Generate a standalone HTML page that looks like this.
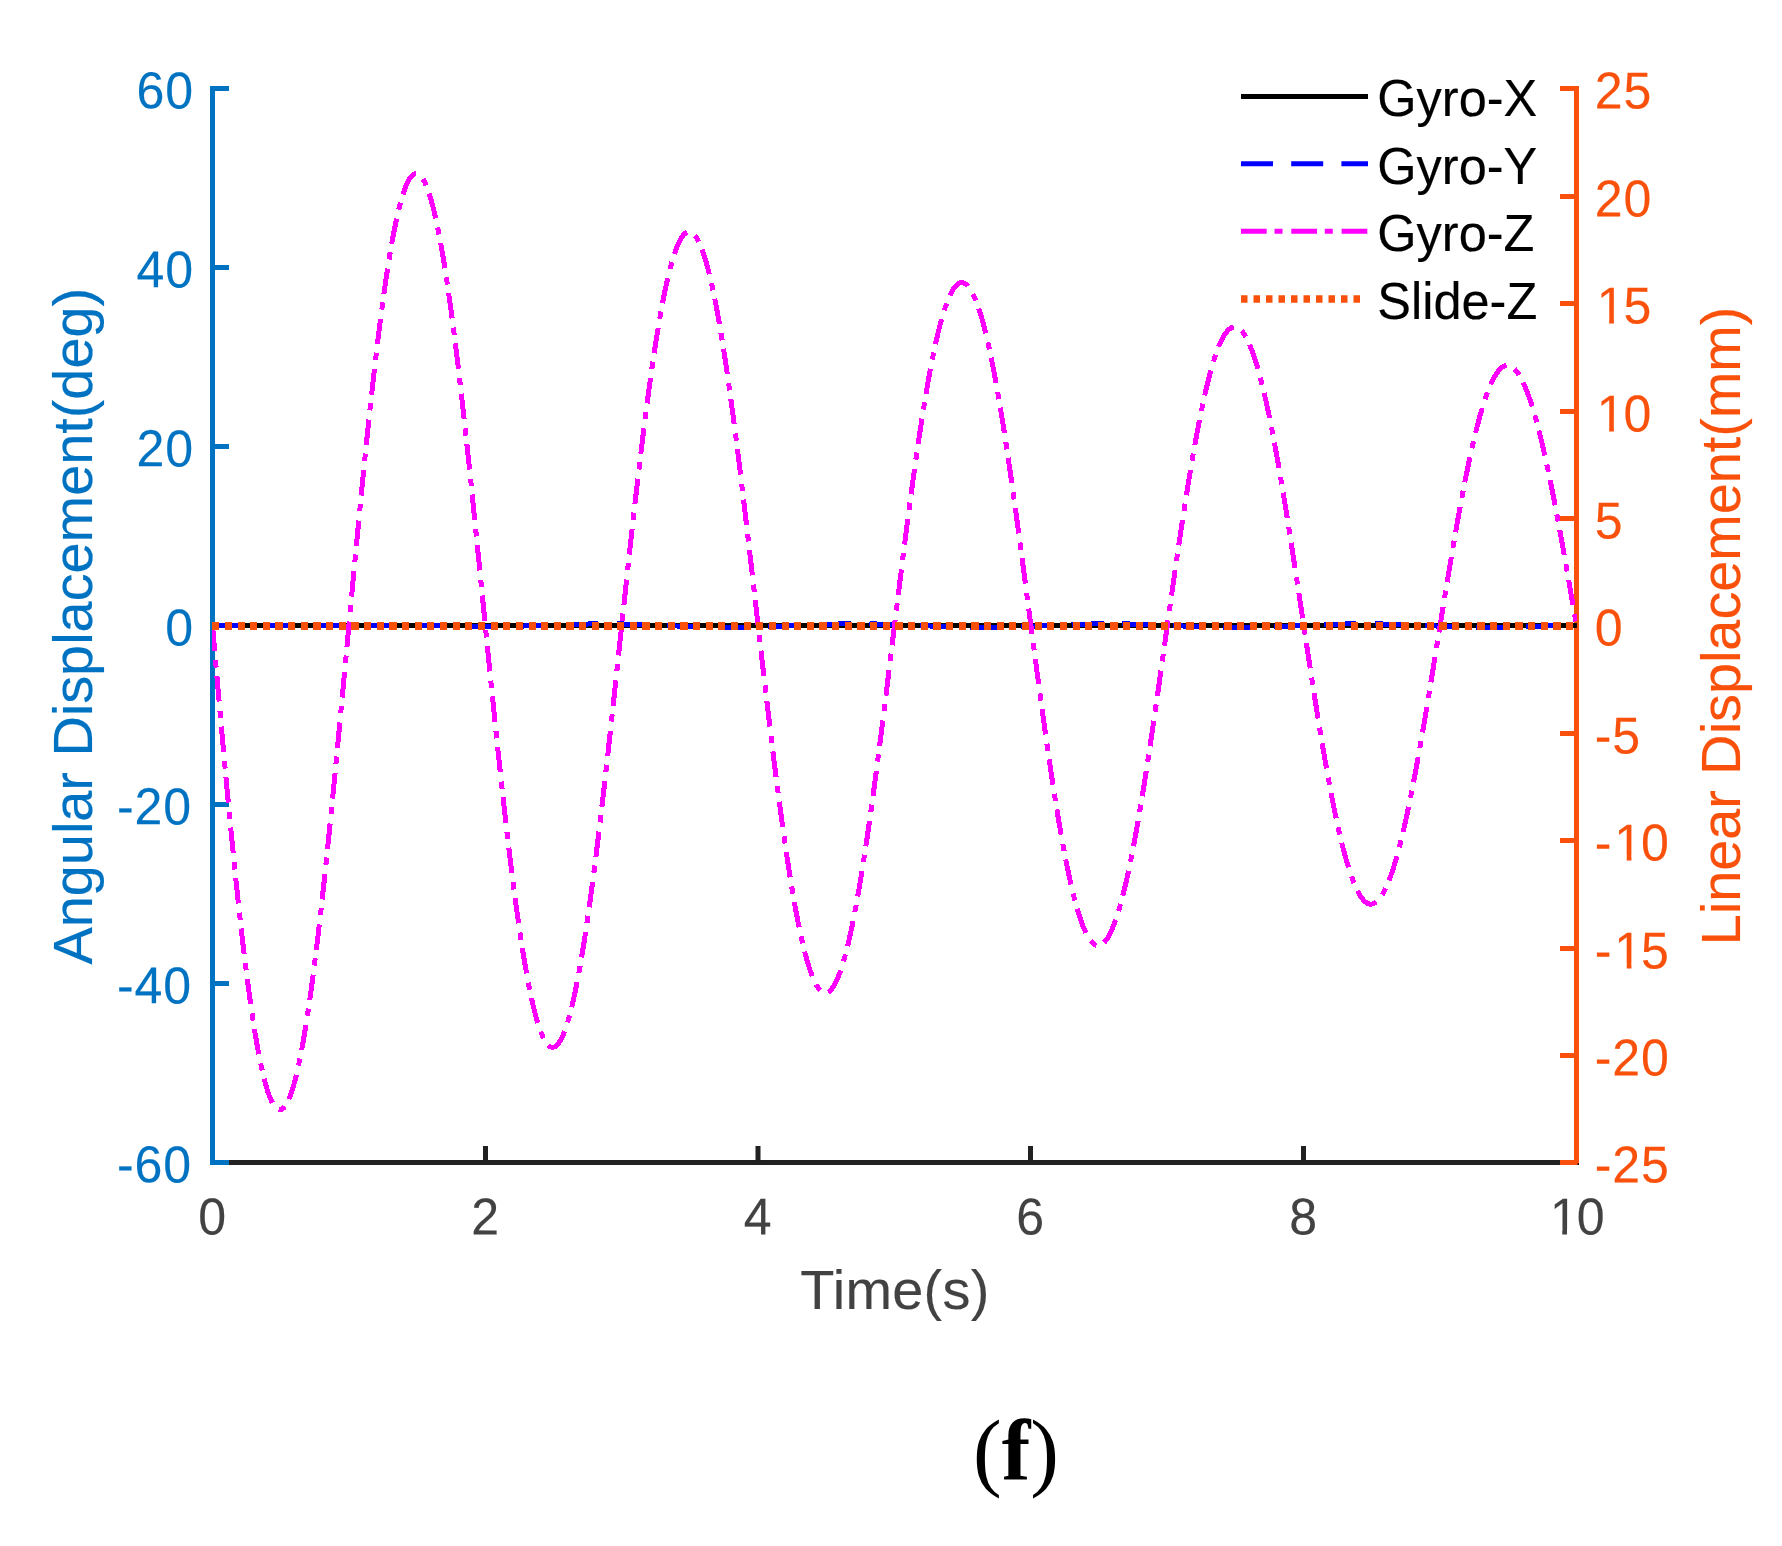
<!DOCTYPE html>
<html lang="en"><head><meta charset="utf-8"><title>Figure (f)</title>
<style>html,body{margin:0;padding:0;background:#fff}svg{display:block}text{font-family:"Liberation Sans",sans-serif}.ser{font-family:"Liberation Serif",serif}</style></head><body>
<svg width="1782" height="1546" viewBox="0 0 1782 1546">
<rect width="1782" height="1546" fill="#fff"/>
<g stroke="#212121" stroke-width="5" fill="none">
<line x1="210.0" y1="1162.5" x2="1579.0" y2="1162.5"/>
<line x1="212.50" y1="1165.0" x2="212.50" y2="1146.0"/>
<line x1="485.50" y1="1165.0" x2="485.50" y2="1146.0"/>
<line x1="758.00" y1="1165.0" x2="758.00" y2="1146.0"/>
<line x1="1030.50" y1="1165.0" x2="1030.50" y2="1146.0"/>
<line x1="1303.50" y1="1165.0" x2="1303.50" y2="1146.0"/>
<line x1="1576.50" y1="1165.0" x2="1576.50" y2="1146.0"/>
</g>
<g stroke="#0072C2" stroke-width="5" fill="none">
<line x1="212.5" y1="86.0" x2="212.5" y2="1165.0"/>
<line x1="210.0" y1="1162.50" x2="229.0" y2="1162.50"/>
<line x1="210.0" y1="983.50" x2="229.0" y2="983.50"/>
<line x1="210.0" y1="804.50" x2="229.0" y2="804.50"/>
<line x1="210.0" y1="625.50" x2="229.0" y2="625.50"/>
<line x1="210.0" y1="446.50" x2="229.0" y2="446.50"/>
<line x1="210.0" y1="267.50" x2="229.0" y2="267.50"/>
<line x1="210.0" y1="88.50" x2="229.0" y2="88.50"/>
</g>
<g stroke="#F9510B" stroke-width="5" fill="none">
<line x1="1576.5" y1="86.0" x2="1576.5" y2="1165.0"/>
<line x1="1579.0" y1="1162.50" x2="1560.0" y2="1162.50"/>
<line x1="1579.0" y1="1055.50" x2="1560.0" y2="1055.50"/>
<line x1="1579.0" y1="948.50" x2="1560.0" y2="948.50"/>
<line x1="1579.0" y1="840.50" x2="1560.0" y2="840.50"/>
<line x1="1579.0" y1="733.50" x2="1560.0" y2="733.50"/>
<line x1="1579.0" y1="625.50" x2="1560.0" y2="625.50"/>
<line x1="1579.0" y1="518.50" x2="1560.0" y2="518.50"/>
<line x1="1579.0" y1="411.50" x2="1560.0" y2="411.50"/>
<line x1="1579.0" y1="303.50" x2="1560.0" y2="303.50"/>
<line x1="1579.0" y1="196.50" x2="1560.0" y2="196.50"/>
<line x1="1579.0" y1="88.50" x2="1560.0" y2="88.50"/>
</g>
<clipPath id="box"><rect x="212" y="88" width="1365" height="1075"/></clipPath>
<g clip-path="url(#box)">
<line x1="212.5" y1="625.50" x2="1576.9" y2="625.50" stroke="#000" stroke-width="5"/>
<polyline points="212.50,625.60 215.23,625.60 217.96,625.60 220.68,625.60 223.41,625.60 226.14,625.60 228.87,625.60 231.60,625.60 234.32,625.60 237.05,625.60 239.78,625.60 242.51,625.60 245.24,625.60 247.96,625.60 250.69,625.60 253.42,625.60 256.15,625.60 258.88,625.60 261.60,625.60 264.33,625.60 267.06,625.60 269.79,625.60 272.52,625.60 275.24,625.60 277.97,625.60 280.70,625.60 283.43,625.60 286.16,625.60 288.88,625.60 291.61,625.60 294.34,625.60 297.07,625.60 299.80,625.60 302.52,625.60 305.25,625.60 307.98,625.60 310.71,625.60 313.44,625.60 316.16,625.60 318.89,625.60 321.62,625.60 324.35,625.60 327.08,625.60 329.80,625.60 332.53,625.60 335.26,625.60 337.99,625.60 340.72,625.60 343.44,625.60 346.17,625.60 348.90,625.60 351.63,625.60 354.36,625.60 357.08,625.60 359.81,625.60 362.54,625.60 365.27,625.60 368.00,625.60 370.72,625.60 373.45,625.60 376.18,625.60 378.91,625.60 381.64,625.60 384.36,625.60 387.09,625.60 389.82,625.60 392.55,625.60 395.28,625.60 398.00,625.60 400.73,625.60 403.46,625.60 406.19,625.60 408.92,625.60 411.64,625.60 414.37,625.60 417.10,625.60 419.83,625.60 422.56,625.60 425.28,625.60 428.01,625.60 430.74,625.60 433.47,625.61 436.20,625.63 438.92,625.65 441.65,625.68 444.38,625.70 447.11,625.73 449.84,625.76 452.56,625.80 455.29,625.83 458.02,625.87 460.75,625.90 463.48,625.94 466.20,625.98 468.93,626.01 471.66,626.05 474.39,626.08 477.12,626.11 479.84,626.14 482.57,626.17 485.30,626.19 488.03,626.21 490.76,626.22 493.48,626.24 496.21,626.24 498.94,626.24 501.67,626.24 504.40,626.23 507.12,626.22 509.85,626.20 512.58,626.18 515.31,626.15 518.04,626.11 520.76,626.07 523.49,626.02 526.22,625.97 528.95,625.91 531.68,625.84 534.40,625.78 537.13,625.70 539.86,625.62 542.59,625.54 545.32,625.45 548.04,625.36 550.77,625.27 553.50,625.18 556.23,625.08 558.96,624.98 561.68,624.88 564.41,624.78 567.14,624.68 569.87,624.59 572.60,624.49 575.32,624.39 578.05,624.30 580.78,624.22 583.51,624.13 586.24,624.05 588.96,623.98 591.69,623.91 594.42,623.85 597.15,623.83 599.88,623.81 602.60,623.80 605.33,623.80 608.06,623.81 610.79,623.83 613.52,623.85 616.24,623.88 618.97,623.92 621.70,623.97 624.43,624.03 627.16,624.09 629.88,624.16 632.61,624.24 635.34,624.32 638.07,624.41 640.80,624.50 643.52,624.60 646.25,624.70 648.98,624.81 651.71,624.92 654.44,625.04 657.16,625.15 659.89,625.27 662.62,625.39 665.35,625.51 668.08,625.64 670.80,625.76 673.53,625.88 676.26,626.00 678.99,626.11 681.72,626.23 684.44,626.34 687.17,626.45 689.90,626.56 692.63,626.66 695.36,626.75 698.08,626.85 700.81,626.93 703.54,627.01 706.27,627.08 709.00,627.15 711.72,627.21 714.45,627.26 717.18,627.30 719.91,627.34 722.64,627.36 725.36,627.38 728.09,627.40 730.82,627.40 733.55,627.40 736.28,627.38 739.00,627.36 741.73,627.33 744.46,627.29 747.19,627.25 749.92,627.20 752.64,627.14 755.37,627.07 758.10,627.00 760.83,626.92 763.56,626.83 766.28,626.74 769.01,626.64 771.74,626.54 774.47,626.44 777.20,626.33 779.92,626.21 782.65,626.10 785.38,625.98 788.11,625.86 790.84,625.74 793.56,625.62 796.29,625.50 799.02,625.37 801.75,625.25 804.48,625.13 807.20,625.02 809.93,624.90 812.66,624.79 815.39,624.69 818.12,624.58 820.84,624.49 823.57,624.39 826.30,624.31 829.03,624.22 831.76,624.15 834.48,624.08 837.21,624.02 839.94,623.96 842.67,623.92 845.40,623.88 848.12,623.85 850.85,623.82 853.58,623.81 856.31,623.80 859.04,623.80 861.76,623.81 864.49,623.83 867.22,623.85 869.95,623.89 872.68,623.93 875.40,623.98 878.13,624.04 880.86,624.10 883.59,624.17 886.32,624.25 889.04,624.33 891.77,624.42 894.50,624.51 897.23,624.61 899.96,624.72 902.68,624.83 905.41,624.94 908.14,625.05 910.87,625.17 913.60,625.29 916.32,625.41 919.05,625.53 921.78,625.65 924.51,625.77 927.24,625.90 929.96,626.01 932.69,626.13 935.42,626.25 938.15,626.36 940.88,626.47 943.60,626.57 946.33,626.67 949.06,626.77 951.79,626.86 954.52,626.94 957.24,627.02 959.97,627.09 962.70,627.16 965.43,627.21 968.16,627.26 970.88,627.31 973.61,627.34 976.34,627.37 979.07,627.39 981.80,627.40 984.52,627.40 987.25,627.39 989.98,627.38 992.71,627.36 995.44,627.33 998.16,627.29 1000.89,627.24 1003.62,627.19 1006.35,627.13 1009.08,627.06 1011.80,626.99 1014.53,626.91 1017.26,626.82 1019.99,626.73 1022.72,626.63 1025.44,626.53 1028.17,626.42 1030.90,626.31 1033.63,626.20 1036.36,626.08 1039.08,625.96 1041.81,625.84 1044.54,625.72 1047.27,625.60 1050.00,625.48 1052.72,625.36 1055.45,625.24 1058.18,625.12 1060.91,625.00 1063.64,624.89 1066.36,624.78 1069.09,624.67 1071.82,624.57 1074.55,624.47 1077.28,624.38 1080.00,624.29 1082.73,624.21 1085.46,624.14 1088.19,624.07 1090.92,624.01 1093.64,623.96 1096.37,623.91 1099.10,623.87 1101.83,623.84 1104.56,623.82 1107.28,623.81 1110.01,623.80 1112.74,623.80 1115.47,623.81 1118.20,623.83 1120.92,623.86 1123.65,623.89 1126.38,623.94 1129.11,623.99 1131.84,624.04 1134.56,624.11 1137.29,624.18 1140.02,624.26 1142.75,624.34 1145.48,624.43 1148.20,624.53 1150.93,624.63 1153.66,624.73 1156.39,624.84 1159.12,624.96 1161.84,625.07 1164.57,625.19 1167.30,625.31 1170.03,625.43 1172.76,625.55 1175.48,625.67 1178.21,625.79 1180.94,625.91 1183.67,626.03 1186.40,626.15 1189.12,626.26 1191.85,626.38 1194.58,626.48 1197.31,626.59 1200.04,626.69 1202.76,626.78 1205.49,626.87 1208.22,626.95 1210.95,627.03 1213.68,627.10 1216.40,627.17 1219.13,627.22 1221.86,627.27 1224.59,627.31 1227.32,627.35 1230.04,627.37 1232.77,627.39 1235.50,627.40 1238.23,627.40 1240.96,627.39 1243.68,627.38 1246.41,627.35 1249.14,627.32 1251.87,627.28 1254.60,627.24 1257.32,627.18 1260.05,627.12 1262.78,627.05 1265.51,626.97 1268.24,626.89 1270.96,626.80 1273.69,626.71 1276.42,626.61 1279.15,626.51 1281.88,626.40 1284.60,626.29 1287.33,626.18 1290.06,626.06 1292.79,625.94 1295.52,625.82 1298.24,625.70 1300.97,625.58 1303.70,625.46 1306.43,625.34 1309.16,625.22 1311.88,625.10 1314.61,624.98 1317.34,624.87 1320.07,624.76 1322.80,624.66 1325.52,624.55 1328.25,624.46 1330.98,624.37 1333.71,624.28 1336.44,624.20 1339.16,624.13 1341.89,624.06 1344.62,624.00 1347.35,623.95 1350.08,623.90 1352.80,623.87 1355.53,623.84 1358.26,623.82 1360.99,623.80 1363.72,623.80 1366.44,623.80 1369.17,623.82 1371.90,623.84 1374.63,623.86 1377.36,623.90 1380.08,623.94 1382.81,624.00 1385.54,624.05 1388.27,624.12 1391.00,624.19 1393.72,624.27 1396.45,624.36 1399.18,624.45 1401.91,624.54 1404.64,624.65 1407.36,624.75 1410.09,624.86 1412.82,624.97 1415.55,625.09 1418.28,625.21 1421.00,625.33 1423.73,625.45 1426.46,625.57 1429.19,625.69 1431.92,625.81 1434.64,625.93 1437.37,626.05 1440.10,626.17 1442.83,626.28 1445.56,626.39 1448.28,626.50 1451.01,626.60 1453.74,626.70 1456.47,626.80 1459.20,626.88 1461.92,626.97 1464.65,627.04 1467.38,627.11 1470.11,627.17 1472.84,627.23 1475.56,627.28 1478.29,627.32 1481.02,627.35 1483.75,627.37 1486.48,627.39 1489.20,627.40 1491.93,627.40 1494.66,627.39 1497.39,627.37 1500.12,627.35 1502.84,627.32 1505.57,627.28 1508.30,627.23 1511.03,627.17 1513.76,627.11 1516.48,627.04 1519.21,626.96 1521.94,626.88 1524.67,626.79 1527.40,626.70 1530.12,626.60 1532.85,626.49 1535.58,626.39 1538.31,626.28 1541.04,626.16 1543.76,626.04 1546.49,625.93 1549.22,625.81 1551.95,625.68 1554.68,625.56 1557.40,625.44 1560.13,625.32 1562.86,625.20 1565.59,625.08 1568.32,624.97 1571.04,624.85 1573.77,624.75 1576.50,624.64" fill="none" stroke="#0000FF" stroke-width="5" shape-rendering="crispEdges" stroke-dasharray="32 18.55"/>
<polyline points="212.50,625.50 213.18,633.37 213.86,641.23 214.55,649.09 215.23,656.93 215.91,664.76 216.59,672.57 217.27,680.37 217.96,688.14 218.64,695.90 219.32,703.63 220.00,711.34 220.68,719.03 221.37,726.68 222.05,734.31 222.73,741.90 223.41,749.46 224.09,756.98 224.78,764.46 225.46,771.91 226.14,779.31 226.82,786.67 227.50,793.99 228.19,801.26 228.87,808.48 229.55,815.65 230.23,822.77 230.91,829.84 231.60,836.85 232.28,843.80 232.96,850.69 233.64,857.53 234.32,864.30 235.01,871.01 235.69,877.65 236.37,884.23 237.05,890.74 237.73,897.17 238.42,903.54 239.10,909.84 239.78,916.05 240.46,922.20 241.14,928.26 241.83,934.25 242.51,940.16 243.19,945.98 243.87,951.72 244.55,957.38 245.24,962.95 245.92,968.44 246.60,973.83 247.28,979.14 247.96,984.35 248.65,989.48 249.33,994.51 250.01,999.44 250.69,1004.28 251.37,1009.02 252.06,1013.67 252.74,1018.21 253.42,1022.66 254.10,1027.00 254.78,1031.25 255.47,1035.39 256.15,1039.42 256.83,1043.35 257.51,1047.18 258.19,1050.90 258.88,1054.51 259.56,1058.01 260.24,1061.40 260.92,1064.68 261.60,1067.86 262.29,1070.92 262.97,1073.87 263.65,1076.70 264.33,1079.43 265.01,1082.04 265.70,1084.53 266.38,1086.91 267.06,1089.17 267.74,1091.32 268.42,1093.35 269.11,1095.27 269.79,1097.07 270.47,1098.75 271.15,1100.31 271.83,1101.75 272.52,1103.08 273.20,1104.29 273.88,1105.37 274.56,1106.34 275.24,1107.19 275.93,1107.92 276.61,1108.53 277.29,1109.02 277.97,1109.39 278.65,1109.64 279.34,1109.77 280.02,1109.79 280.70,1109.68 281.38,1109.45 282.06,1109.11 282.75,1108.64 283.43,1108.06 284.11,1107.35 284.79,1106.53 285.47,1105.59 286.16,1104.54 286.84,1103.36 287.52,1102.07 288.20,1100.66 288.88,1099.14 289.57,1097.49 290.25,1095.74 290.93,1093.87 291.61,1091.88 292.29,1089.78 292.98,1087.57 293.66,1085.25 294.34,1082.81 295.02,1080.26 295.70,1077.61 296.39,1074.84 297.07,1071.96 297.75,1068.98 298.43,1065.88 299.11,1062.69 299.80,1059.38 300.48,1055.97 301.16,1052.46 301.84,1048.84 302.52,1045.12 303.21,1041.31 303.89,1037.39 304.57,1033.37 305.25,1029.25 305.93,1025.04 306.62,1020.73 307.30,1016.33 307.98,1011.83 308.66,1007.24 309.34,1002.57 310.03,997.80 310.71,992.94 311.39,987.99 312.07,982.96 312.75,977.85 313.44,972.65 314.12,967.36 314.80,962.00 315.48,956.56 316.16,951.04 316.85,945.45 317.53,939.78 318.21,934.03 318.89,928.21 319.57,922.33 320.26,916.37 320.94,910.35 321.62,904.25 322.30,898.10 322.98,891.88 323.67,885.60 324.35,879.26 325.03,872.86 325.71,866.41 326.39,859.90 327.08,853.34 327.76,846.72 328.44,840.06 329.12,833.35 329.80,826.59 330.49,819.78 331.17,812.94 331.85,806.05 332.53,799.12 333.21,792.15 333.90,785.15 334.58,778.11 335.26,771.04 335.94,763.94 336.62,756.81 337.31,749.65 337.99,742.47 338.67,735.26 339.35,728.03 340.03,720.78 340.72,713.51 341.40,706.22 342.08,698.92 342.76,691.61 343.44,684.29 344.13,676.95 344.81,669.61 345.49,662.26 346.17,654.91 346.85,647.56 347.54,640.20 348.22,632.85 348.90,625.50 349.58,618.16 350.26,610.82 350.95,603.49 351.63,596.17 352.31,588.87 352.99,581.57 353.67,574.30 354.36,567.04 355.04,559.80 355.72,552.58 356.40,545.39 357.08,538.22 357.77,531.07 358.45,523.96 359.13,516.87 359.81,509.82 360.49,502.80 361.18,495.81 361.86,488.87 362.54,481.96 363.22,475.09 363.90,468.26 364.59,461.48 365.27,454.74 365.95,448.04 366.63,441.40 367.31,434.81 368.00,428.26 368.68,421.78 369.36,415.34 370.04,408.96 370.72,402.64 371.41,396.38 372.09,390.18 372.77,384.05 373.45,377.97 374.13,371.96 374.82,366.02 375.50,360.15 376.18,354.34 376.86,348.61 377.54,342.95 378.23,337.36 378.91,331.85 379.59,326.42 380.27,321.06 380.95,315.78 381.64,310.58 382.32,305.46 383.00,300.42 383.68,295.47 384.36,290.61 385.05,285.82 385.73,281.13 386.41,276.53 387.09,272.01 387.77,267.58 388.46,263.25 389.14,259.01 389.82,254.86 390.50,250.80 391.18,246.84 391.87,242.98 392.55,239.21 393.23,235.55 393.91,231.98 394.59,228.51 395.28,225.14 395.96,221.87 396.64,218.70 397.32,215.64 398.00,212.68 398.69,209.82 399.37,207.07 400.05,204.42 400.73,201.88 401.41,199.45 402.10,197.12 402.78,194.90 403.46,192.78 404.14,190.78 404.82,188.88 405.51,187.10 406.19,185.42 406.87,183.85 407.55,182.39 408.23,181.04 408.92,179.81 409.60,178.68 410.28,177.67 410.96,176.76 411.64,175.97 412.33,175.29 413.01,174.72 413.69,174.26 414.37,173.92 415.05,173.68 415.74,173.56 416.42,173.55 417.10,173.65 417.78,173.86 418.46,174.18 419.15,174.62 419.83,175.16 420.51,175.82 421.19,176.58 421.87,177.46 422.56,178.45 423.24,179.54 423.92,180.75 424.60,182.06 425.28,183.49 425.97,185.02 426.65,186.66 427.33,188.40 428.01,190.26 428.69,192.21 429.38,194.28 430.06,196.45 430.74,198.72 431.42,201.10 432.10,203.58 432.79,206.16 433.47,208.85 434.15,211.63 434.83,214.52 435.51,217.50 436.20,220.59 436.88,223.77 437.56,227.05 438.24,230.42 438.92,233.89 439.61,237.46 440.29,241.11 440.97,244.86 441.65,248.70 442.33,252.64 443.02,256.66 443.70,260.77 444.38,264.96 445.06,269.24 445.74,273.61 446.43,278.06 447.11,282.59 447.79,287.21 448.47,291.90 449.15,296.68 449.84,301.53 450.52,306.46 451.20,311.46 451.88,316.54 452.56,321.69 453.25,326.92 453.93,332.21 454.61,337.57 455.29,343.00 455.97,348.49 456.66,354.05 457.34,359.67 458.02,365.36 458.70,371.10 459.38,376.90 460.07,382.76 460.75,388.68 461.43,394.65 462.11,400.67 462.79,406.75 463.48,412.87 464.16,419.05 464.84,425.27 465.52,431.53 466.20,437.84 466.89,444.19 467.57,450.58 468.25,457.01 468.93,463.47 469.61,469.97 470.30,476.51 470.98,483.08 471.66,489.68 472.34,496.30 473.02,502.96 473.71,509.64 474.39,516.34 475.07,523.07 475.75,529.82 476.43,536.58 477.12,543.37 477.80,550.17 478.48,556.98 479.16,563.80 479.84,570.64 480.53,577.48 481.21,584.34 481.89,591.19 482.57,598.05 483.25,604.92 483.94,611.78 484.62,618.64 485.30,625.50 485.98,632.35 486.66,639.20 487.35,646.04 488.03,652.87 488.71,659.69 489.39,666.49 490.07,673.28 490.76,680.06 491.44,686.81 492.12,693.55 492.80,700.26 493.48,706.95 494.17,713.62 494.85,720.26 495.53,726.87 496.21,733.46 496.89,740.01 497.58,746.53 498.26,753.01 498.94,759.46 499.62,765.87 500.30,772.24 500.99,778.57 501.67,784.86 502.35,791.11 503.03,797.31 503.71,803.46 504.40,809.57 505.08,815.62 505.76,821.63 506.44,827.58 507.12,833.48 507.81,839.32 508.49,845.11 509.17,850.83 509.85,856.50 510.53,862.11 511.22,867.65 511.90,873.13 512.58,878.55 513.26,883.90 513.94,889.18 514.63,894.40 515.31,899.54 515.99,904.62 516.67,909.62 517.35,914.54 518.04,919.40 518.72,924.17 519.40,928.87 520.08,933.49 520.76,938.03 521.45,942.50 522.13,946.88 522.81,951.17 523.49,955.39 524.17,959.52 524.86,963.57 525.54,967.52 526.22,971.40 526.90,975.18 527.58,978.88 528.27,982.48 528.95,986.00 529.63,989.42 530.31,992.75 530.99,995.99 531.68,999.13 532.36,1002.18 533.04,1005.14 533.72,1008.00 534.40,1010.76 535.09,1013.43 535.77,1015.99 536.45,1018.46 537.13,1020.84 537.81,1023.11 538.50,1025.28 539.18,1027.35 539.86,1029.33 540.54,1031.20 541.22,1032.97 541.91,1034.63 542.59,1036.20 543.27,1037.66 543.95,1039.02 544.63,1040.28 545.32,1041.44 546.00,1042.49 546.68,1043.43 547.36,1044.28 548.04,1045.02 548.73,1045.65 549.41,1046.18 550.09,1046.61 550.77,1046.93 551.45,1047.15 552.14,1047.27 552.82,1047.28 553.50,1047.18 554.18,1046.99 554.86,1046.68 555.55,1046.28 556.23,1045.77 556.91,1045.16 557.59,1044.44 558.27,1043.62 558.96,1042.70 559.64,1041.68 560.32,1040.56 561.00,1039.33 561.68,1038.00 562.37,1036.57 563.05,1035.04 563.73,1033.41 564.41,1031.68 565.09,1029.86 565.78,1027.93 566.46,1025.91 567.14,1023.78 567.82,1021.56 568.50,1019.25 569.19,1016.84 569.87,1014.33 570.55,1011.73 571.23,1009.04 571.91,1006.26 572.60,1003.38 573.28,1000.41 573.96,997.35 574.64,994.20 575.32,990.96 576.01,987.64 576.69,984.22 577.37,980.72 578.05,977.14 578.73,973.47 579.42,969.72 580.10,965.88 580.78,961.97 581.46,957.97 582.14,953.90 582.83,949.74 583.51,945.51 584.19,941.20 584.87,936.82 585.55,932.37 586.24,927.84 586.92,923.24 587.60,918.57 588.28,913.83 588.96,909.02 589.65,904.15 590.33,899.21 591.01,894.21 591.69,889.14 592.37,884.01 593.06,878.83 593.74,873.58 594.42,868.27 595.10,862.91 595.78,857.50 596.47,852.03 597.15,846.51 597.83,840.94 598.51,835.32 599.19,829.65 599.88,823.93 600.56,818.17 601.24,812.37 601.92,806.52 602.60,800.63 603.29,794.71 603.97,788.74 604.65,782.74 605.33,776.71 606.01,770.64 606.70,764.54 607.38,758.41 608.06,752.26 608.74,746.07 609.42,739.86 610.11,733.63 610.79,727.37 611.47,721.09 612.15,714.79 612.83,708.48 613.52,702.15 614.20,695.80 614.88,689.45 615.56,683.08 616.24,676.70 616.93,670.31 617.61,663.92 618.29,657.52 618.97,651.11 619.65,644.71 620.34,638.30 621.02,631.90 621.70,625.50 622.38,619.10 623.06,612.71 623.75,606.33 624.43,599.96 625.11,593.59 625.79,587.24 626.47,580.91 627.16,574.58 627.84,568.28 628.52,561.99 629.20,555.73 629.88,549.48 630.57,543.26 631.25,537.07 631.93,530.89 632.61,524.75 633.29,518.64 633.98,512.55 634.66,506.50 635.34,500.48 636.02,494.50 636.70,488.56 637.39,482.65 638.07,476.78 638.75,470.95 639.43,465.16 640.11,459.42 640.80,453.72 641.48,448.07 642.16,442.47 642.84,436.91 643.52,431.41 644.21,425.96 644.89,420.56 645.57,415.21 646.25,409.92 646.93,404.69 647.62,399.51 648.30,394.40 648.98,389.34 649.66,384.35 650.34,379.42 651.03,374.56 651.71,369.75 652.39,365.02 653.07,360.35 653.75,355.76 654.44,351.23 655.12,346.77 655.80,342.38 656.48,338.07 657.16,333.83 657.85,329.67 658.53,325.58 659.21,321.57 659.89,317.64 660.57,313.78 661.26,310.01 661.94,306.31 662.62,302.70 663.30,299.17 663.98,295.72 664.67,292.35 665.35,289.07 666.03,285.88 666.71,282.77 667.39,279.75 668.08,276.81 668.76,273.97 669.44,271.21 670.12,268.54 670.80,265.96 671.49,263.47 672.17,261.08 672.85,258.77 673.53,256.56 674.21,254.44 674.90,252.41 675.58,250.48 676.26,248.64 676.94,246.89 677.62,245.24 678.31,243.68 678.99,242.22 679.67,240.86 680.35,239.59 681.03,238.41 681.72,237.34 682.40,236.35 683.08,235.47 683.76,234.68 684.44,233.99 685.13,233.40 685.81,232.90 686.49,232.51 687.17,232.20 687.85,232.00 688.54,231.89 689.22,231.88 689.90,231.97 690.58,232.16 691.26,232.44 691.95,232.81 692.63,233.29 693.31,233.86 693.99,234.53 694.67,235.29 695.36,236.15 696.04,237.11 696.72,238.16 697.40,239.30 698.08,240.54 698.77,241.87 699.45,243.30 700.13,244.82 700.81,246.44 701.49,248.14 702.18,249.94 702.86,251.83 703.54,253.81 704.22,255.88 704.90,258.04 705.59,260.29 706.27,262.63 706.95,265.05 707.63,267.57 708.31,270.17 709.00,272.85 709.68,275.62 710.36,278.48 711.04,281.42 711.72,284.44 712.41,287.54 713.09,290.73 713.77,293.99 714.45,297.34 715.13,300.76 715.82,304.26 716.50,307.84 717.18,311.50 717.86,315.23 718.54,319.03 719.23,322.91 719.91,326.86 720.59,330.87 721.27,334.96 721.95,339.12 722.64,343.35 723.32,347.64 724.00,352.00 724.68,356.42 725.36,360.91 726.05,365.46 726.73,370.06 727.41,374.73 728.09,379.46 728.77,384.25 729.46,389.09 730.14,393.98 730.82,398.94 731.50,403.94 732.18,408.99 732.87,414.10 733.55,419.25 734.23,424.45 734.91,429.69 735.59,434.98 736.28,440.32 736.96,445.69 737.64,451.11 738.32,456.57 739.00,462.06 739.69,467.59 740.37,473.16 741.05,478.76 741.73,484.39 742.41,490.05 743.10,495.74 743.78,501.46 744.46,507.21 745.14,512.98 745.82,518.78 746.51,524.59 747.19,530.43 747.87,536.29 748.55,542.17 749.23,548.06 749.92,553.97 750.60,559.89 751.28,565.82 751.96,571.77 752.64,577.72 753.33,583.68 754.01,589.65 754.69,595.62 755.37,601.60 756.05,607.57 756.74,613.55 757.42,619.53 758.10,625.50 758.78,631.47 759.46,637.43 760.15,643.39 760.83,649.34 761.51,655.28 762.19,661.20 762.87,667.12 763.56,673.02 764.24,678.90 764.92,684.77 765.60,690.61 766.28,696.44 766.97,702.25 767.65,708.03 768.33,713.79 769.01,719.52 769.69,725.23 770.38,730.91 771.06,736.55 771.74,742.17 772.42,747.75 773.10,753.30 773.79,758.82 774.47,764.29 775.15,769.73 775.83,775.13 776.51,780.49 777.20,785.81 777.88,791.08 778.56,796.31 779.24,801.50 779.92,806.63 780.61,811.72 781.29,816.76 781.97,821.75 782.65,826.68 783.33,831.57 784.02,836.40 784.70,841.17 785.38,845.89 786.06,850.55 786.74,855.15 787.43,859.69 788.11,864.17 788.79,868.59 789.47,872.94 790.15,877.23 790.84,881.46 791.52,885.62 792.20,889.71 792.88,893.74 793.56,897.69 794.25,901.58 794.93,905.39 795.61,909.14 796.29,912.81 796.97,916.41 797.66,919.93 798.34,923.38 799.02,926.75 799.70,930.05 800.38,933.26 801.07,936.40 801.75,939.46 802.43,942.45 803.11,945.35 803.79,948.17 804.48,950.91 805.16,953.56 805.84,956.14 806.52,958.63 807.20,961.03 807.89,963.35 808.57,965.59 809.25,967.74 809.93,969.81 810.61,971.79 811.30,973.68 811.98,975.48 812.66,977.20 813.34,978.83 814.02,980.37 814.71,981.82 815.39,983.19 816.07,984.46 816.75,985.65 817.43,986.74 818.12,987.75 818.80,988.66 819.48,989.49 820.16,990.22 820.84,990.87 821.53,991.42 822.21,991.88 822.89,992.26 823.57,992.54 824.25,992.73 824.94,992.83 825.62,992.84 826.30,992.75 826.98,992.58 827.66,992.32 828.35,991.97 829.03,991.52 829.71,990.99 830.39,990.37 831.07,989.65 831.76,988.85 832.44,987.96 833.12,986.98 833.80,985.91 834.48,984.76 835.17,983.51 835.85,982.18 836.53,980.76 837.21,979.26 837.89,977.66 838.58,975.99 839.26,974.22 839.94,972.37 840.62,970.44 841.30,968.43 841.99,966.33 842.67,964.14 843.35,961.88 844.03,959.54 844.71,957.11 845.40,954.60 846.08,952.02 846.76,949.35 847.44,946.61 848.12,943.79 848.81,940.89 849.49,937.92 850.17,934.87 850.85,931.75 851.53,928.56 852.22,925.29 852.90,921.95 853.58,918.54 854.26,915.06 854.94,911.51 855.63,907.89 856.31,904.21 856.99,900.45 857.67,896.64 858.35,892.76 859.04,888.81 859.72,884.81 860.40,880.74 861.08,876.61 861.76,872.43 862.45,868.18 863.13,863.88 863.81,859.52 864.49,855.11 865.17,850.65 865.86,846.13 866.54,841.56 867.22,836.94 867.90,832.27 868.58,827.55 869.27,822.79 869.95,817.98 870.63,813.13 871.31,808.23 871.99,803.30 872.68,798.32 873.36,793.30 874.04,788.25 874.72,783.15 875.40,778.03 876.09,772.87 876.77,767.67 877.45,762.45 878.13,757.19 878.81,751.91 879.50,746.60 880.18,741.26 880.86,735.89 881.54,730.51 882.22,725.10 882.91,719.67 883.59,714.22 884.27,708.75 884.95,703.27 885.63,697.77 886.32,692.26 887.00,686.73 887.68,681.19 888.36,675.64 889.04,670.09 889.73,664.53 890.41,658.96 891.09,653.38 891.77,647.81 892.45,642.23 893.14,636.65 893.82,631.07 894.50,625.50 895.18,619.93 895.86,614.36 896.55,608.80 897.23,603.25 897.91,597.71 898.59,592.18 899.27,586.66 899.96,581.16 900.64,575.67 901.32,570.19 902.00,564.73 902.68,559.30 903.37,553.88 904.05,548.48 904.73,543.11 905.41,537.76 906.09,532.43 906.78,527.13 907.46,521.86 908.14,516.62 908.82,511.41 909.50,506.23 910.19,501.09 910.87,495.97 911.55,490.90 912.23,485.86 912.91,480.86 913.60,475.90 914.28,470.97 914.96,466.09 915.64,461.26 916.32,456.46 917.01,451.71 917.69,447.01 918.37,442.35 919.05,437.75 919.73,433.19 920.42,428.68 921.10,424.23 921.78,419.83 922.46,415.48 923.14,411.18 923.83,406.95 924.51,402.76 925.19,398.64 925.87,394.58 926.55,390.57 927.24,386.63 927.92,382.75 928.60,378.93 929.28,375.17 929.96,371.48 930.65,367.85 931.33,364.29 932.01,360.80 932.69,357.37 933.37,354.02 934.06,350.73 934.74,347.51 935.42,344.36 936.10,341.29 936.78,338.29 937.47,335.35 938.15,332.50 938.83,329.72 939.51,327.01 940.19,324.38 940.88,321.82 941.56,319.34 942.24,316.94 942.92,314.62 943.60,312.37 944.29,310.20 944.97,308.12 945.65,306.11 946.33,304.18 947.01,302.33 947.70,300.57 948.38,298.88 949.06,297.28 949.74,295.76 950.42,294.32 951.11,292.97 951.79,291.69 952.47,290.50 953.15,289.40 953.83,288.38 954.52,287.44 955.20,286.58 955.88,285.81 956.56,285.13 957.24,284.53 957.93,284.01 958.61,283.58 959.29,283.23 959.97,282.97 960.65,282.79 961.34,282.70 962.02,282.69 962.70,282.77 963.38,282.93 964.06,283.17 964.75,283.50 965.43,283.91 966.11,284.41 966.79,284.99 967.47,285.66 968.16,286.41 968.84,287.24 969.52,288.15 970.20,289.15 970.88,290.23 971.57,291.39 972.25,292.63 972.93,293.96 973.61,295.36 974.29,296.85 974.98,298.41 975.66,300.06 976.34,301.79 977.02,303.59 977.70,305.47 978.39,307.43 979.07,309.47 979.75,311.58 980.43,313.77 981.11,316.03 981.80,318.37 982.48,320.78 983.16,323.27 983.84,325.83 984.52,328.46 985.21,331.17 985.89,333.94 986.57,336.78 987.25,339.70 987.93,342.68 988.62,345.73 989.30,348.85 989.98,352.03 990.66,355.28 991.34,358.59 992.03,361.96 992.71,365.40 993.39,368.90 994.07,372.46 994.75,376.09 995.44,379.77 996.12,383.51 996.80,387.30 997.48,391.15 998.16,395.06 998.85,399.02 999.53,403.04 1000.21,407.10 1000.89,411.22 1001.57,415.39 1002.26,419.60 1002.94,423.87 1003.62,428.18 1004.30,432.54 1004.98,436.94 1005.67,441.38 1006.35,445.87 1007.03,450.40 1007.71,454.97 1008.39,459.58 1009.08,464.22 1009.76,468.90 1010.44,473.62 1011.12,478.37 1011.80,483.16 1012.49,487.97 1013.17,492.82 1013.85,497.70 1014.53,502.60 1015.21,507.53 1015.90,512.49 1016.58,517.47 1017.26,522.48 1017.94,527.50 1018.62,532.55 1019.31,537.62 1019.99,542.70 1020.67,547.81 1021.35,552.92 1022.03,558.06 1022.72,563.20 1023.40,568.36 1024.08,573.53 1024.76,578.70 1025.44,583.89 1026.13,589.08 1026.81,594.28 1027.49,599.48 1028.17,604.68 1028.85,609.89 1029.54,615.09 1030.22,620.30 1030.90,625.50 1031.58,630.70 1032.26,635.89 1032.95,641.08 1033.63,646.26 1034.31,651.43 1034.99,656.59 1035.67,661.74 1036.36,666.88 1037.04,672.01 1037.72,677.12 1038.40,682.21 1039.08,687.28 1039.77,692.34 1040.45,697.38 1041.13,702.39 1041.81,707.39 1042.49,712.36 1043.18,717.30 1043.86,722.22 1044.54,727.11 1045.22,731.97 1045.90,736.81 1046.59,741.61 1047.27,746.38 1047.95,751.11 1048.63,755.82 1049.31,760.49 1050.00,765.12 1050.68,769.71 1051.36,774.26 1052.04,778.78 1052.72,783.25 1053.41,787.68 1054.09,792.07 1054.77,796.42 1055.45,800.72 1056.13,804.97 1056.82,809.18 1057.50,813.33 1058.18,817.44 1058.86,821.50 1059.54,825.51 1060.23,829.46 1060.91,833.36 1061.59,837.21 1062.27,841.00 1062.95,844.74 1063.64,848.42 1064.32,852.05 1065.00,855.61 1065.68,859.12 1066.36,862.56 1067.05,865.94 1067.73,869.27 1068.41,872.53 1069.09,875.72 1069.77,878.86 1070.46,881.93 1071.14,884.93 1071.82,887.87 1072.50,890.74 1073.18,893.54 1073.87,896.27 1074.55,898.94 1075.23,901.54 1075.91,904.06 1076.59,906.52 1077.28,908.90 1077.96,911.22 1078.64,913.46 1079.32,915.63 1080.00,917.72 1080.69,919.75 1081.37,921.69 1082.05,923.57 1082.73,925.37 1083.41,927.09 1084.10,928.74 1084.78,930.31 1085.46,931.81 1086.14,933.22 1086.82,934.57 1087.51,935.83 1088.19,937.02 1088.87,938.13 1089.55,939.16 1090.23,940.12 1090.92,940.99 1091.60,941.79 1092.28,942.51 1092.96,943.15 1093.64,943.71 1094.33,944.19 1095.01,944.59 1095.69,944.92 1096.37,945.16 1097.05,945.33 1097.74,945.41 1098.42,945.42 1099.10,945.35 1099.78,945.20 1100.46,944.97 1101.15,944.66 1101.83,944.28 1102.51,943.81 1103.19,943.27 1103.87,942.65 1104.56,941.95 1105.24,941.18 1105.92,940.32 1106.60,939.39 1107.28,938.39 1107.97,937.30 1108.65,936.14 1109.33,934.91 1110.01,933.59 1110.69,932.21 1111.38,930.75 1112.06,929.21 1112.74,927.60 1113.42,925.92 1114.10,924.16 1114.79,922.33 1115.47,920.43 1116.15,918.46 1116.83,916.42 1117.51,914.31 1118.20,912.12 1118.88,909.87 1119.56,907.55 1120.24,905.16 1120.92,902.71 1121.61,900.18 1122.29,897.59 1122.97,894.94 1123.65,892.22 1124.33,889.44 1125.02,886.59 1125.70,883.68 1126.38,880.71 1127.06,877.68 1127.74,874.59 1128.43,871.44 1129.11,868.23 1129.79,864.96 1130.47,861.64 1131.15,858.26 1131.84,854.83 1132.52,851.34 1133.20,847.80 1133.88,844.20 1134.56,840.55 1135.25,836.86 1135.93,833.11 1136.61,829.32 1137.29,825.47 1137.97,821.58 1138.66,817.65 1139.34,813.67 1140.02,809.65 1140.70,805.58 1141.38,801.47 1142.07,797.32 1142.75,793.14 1143.43,788.91 1144.11,784.65 1144.79,780.35 1145.48,776.01 1146.16,771.64 1146.84,767.24 1147.52,762.81 1148.20,758.34 1148.89,753.85 1149.57,749.32 1150.25,744.77 1150.93,740.19 1151.61,735.59 1152.30,730.96 1152.98,726.32 1153.66,721.64 1154.34,716.95 1155.02,712.24 1155.71,707.51 1156.39,702.77 1157.07,698.01 1157.75,693.23 1158.43,688.44 1159.12,683.64 1159.80,678.83 1160.48,674.00 1161.16,669.17 1161.84,664.33 1162.53,659.49 1163.21,654.64 1163.89,649.78 1164.57,644.93 1165.25,640.07 1165.94,635.21 1166.62,630.36 1167.30,625.50 1167.98,620.65 1168.66,615.80 1169.35,610.96 1170.03,606.13 1170.71,601.30 1171.39,596.48 1172.07,591.68 1172.76,586.88 1173.44,582.10 1174.12,577.33 1174.80,572.58 1175.48,567.84 1176.17,563.12 1176.85,558.42 1177.53,553.74 1178.21,549.08 1178.89,544.44 1179.58,539.83 1180.26,535.24 1180.94,530.67 1181.62,526.14 1182.30,521.63 1182.99,517.14 1183.67,512.69 1184.35,508.27 1185.03,503.88 1185.71,499.53 1186.40,495.21 1187.08,490.92 1187.76,486.67 1188.44,482.46 1189.12,478.28 1189.81,474.14 1190.49,470.05 1191.17,465.99 1191.85,461.98 1192.53,458.01 1193.22,454.09 1193.90,450.21 1194.58,446.37 1195.26,442.59 1195.94,438.85 1196.63,435.16 1197.31,431.51 1197.99,427.92 1198.67,424.38 1199.35,420.90 1200.04,417.46 1200.72,414.08 1201.40,410.75 1202.08,407.48 1202.76,404.27 1203.45,401.11 1204.13,398.01 1204.81,394.97 1205.49,391.98 1206.17,389.06 1206.86,386.19 1207.54,383.39 1208.22,380.65 1208.90,377.97 1209.58,375.36 1210.27,372.81 1210.95,370.32 1211.63,367.89 1212.31,365.54 1212.99,363.24 1213.68,361.02 1214.36,358.86 1215.04,356.77 1215.72,354.74 1216.40,352.79 1217.09,350.90 1217.77,349.08 1218.45,347.33 1219.13,345.65 1219.81,344.05 1220.50,342.51 1221.18,341.04 1221.86,339.65 1222.54,338.32 1223.22,337.07 1223.91,335.89 1224.59,334.78 1225.27,333.74 1225.95,332.78 1226.63,331.89 1227.32,331.07 1228.00,330.33 1228.68,329.66 1229.36,329.06 1230.04,328.54 1230.73,328.09 1231.41,327.71 1232.09,327.41 1232.77,327.18 1233.45,327.03 1234.14,326.95 1234.82,326.94 1235.50,327.00 1236.18,327.14 1236.86,327.36 1237.55,327.64 1238.23,328.00 1238.91,328.44 1239.59,328.94 1240.27,329.52 1240.96,330.18 1241.64,330.90 1242.32,331.70 1243.00,332.56 1243.68,333.50 1244.37,334.52 1245.05,335.60 1245.73,336.75 1246.41,337.98 1247.09,339.27 1247.78,340.63 1248.46,342.07 1249.14,343.57 1249.82,345.14 1250.50,346.78 1251.19,348.48 1251.87,350.26 1252.55,352.10 1253.23,354.00 1253.91,355.98 1254.60,358.01 1255.28,360.12 1255.96,362.28 1256.64,364.51 1257.32,366.80 1258.01,369.16 1258.69,371.57 1259.37,374.05 1260.05,376.59 1260.73,379.18 1261.42,381.84 1262.10,384.55 1262.78,387.33 1263.46,390.16 1264.14,393.04 1264.83,395.98 1265.51,398.98 1266.19,402.02 1266.87,405.13 1267.55,408.28 1268.24,411.48 1268.92,414.74 1269.60,418.05 1270.28,421.40 1270.96,424.80 1271.65,428.25 1272.33,431.75 1273.01,435.29 1273.69,438.88 1274.37,442.51 1275.06,446.18 1275.74,449.89 1276.42,453.65 1277.10,457.44 1277.78,461.28 1278.47,465.15 1279.15,469.06 1279.83,473.00 1280.51,476.98 1281.19,480.99 1281.88,485.04 1282.56,489.12 1283.24,493.22 1283.92,497.36 1284.60,501.53 1285.29,505.72 1285.97,509.95 1286.65,514.19 1287.33,518.46 1288.01,522.76 1288.70,527.08 1289.38,531.42 1290.06,535.77 1290.74,540.15 1291.42,544.55 1292.11,548.96 1292.79,553.39 1293.47,557.83 1294.15,562.29 1294.83,566.76 1295.52,571.24 1296.20,575.73 1296.88,580.23 1297.56,584.74 1298.24,589.26 1298.93,593.78 1299.61,598.31 1300.29,602.84 1300.97,607.37 1301.65,611.90 1302.34,616.44 1303.02,620.97 1303.70,625.50 1304.38,630.03 1305.06,634.55 1305.75,639.07 1306.43,643.58 1307.11,648.09 1307.79,652.58 1308.47,657.07 1309.16,661.54 1309.84,666.00 1310.52,670.45 1311.20,674.89 1311.88,679.31 1312.57,683.71 1313.25,688.10 1313.93,692.47 1314.61,696.82 1315.29,701.14 1315.98,705.45 1316.66,709.73 1317.34,713.99 1318.02,718.23 1318.70,722.44 1319.39,726.62 1320.07,730.78 1320.75,734.90 1321.43,739.00 1322.11,743.06 1322.80,747.10 1323.48,751.10 1324.16,755.06 1324.84,758.99 1325.52,762.89 1326.21,766.75 1326.89,770.57 1327.57,774.36 1328.25,778.10 1328.93,781.80 1329.62,785.47 1330.30,789.09 1330.98,792.67 1331.66,796.20 1332.34,799.69 1333.03,803.14 1333.71,806.53 1334.39,809.88 1335.07,813.19 1335.75,816.44 1336.44,819.65 1337.12,822.80 1337.80,825.91 1338.48,828.96 1339.16,831.96 1339.85,834.91 1340.53,837.80 1341.21,840.64 1341.89,843.43 1342.57,846.16 1343.26,848.83 1343.94,851.44 1344.62,854.00 1345.30,856.50 1345.98,858.94 1346.67,861.32 1347.35,863.64 1348.03,865.91 1348.71,868.11 1349.39,870.25 1350.08,872.32 1350.76,874.34 1351.44,876.29 1352.12,878.18 1352.80,880.00 1353.49,881.77 1354.17,883.46 1354.85,885.09 1355.53,886.66 1356.21,888.16 1356.90,889.60 1357.58,890.97 1358.26,892.27 1358.94,893.51 1359.62,894.67 1360.31,895.78 1360.99,896.81 1361.67,897.78 1362.35,898.68 1363.03,899.51 1363.72,900.27 1364.40,900.96 1365.08,901.59 1365.76,902.15 1366.44,902.63 1367.13,903.05 1367.81,903.41 1368.49,903.69 1369.17,903.90 1369.85,904.05 1370.54,904.12 1371.22,904.13 1371.90,904.07 1372.58,903.94 1373.26,903.74 1373.95,903.47 1374.63,903.13 1375.31,902.73 1375.99,902.26 1376.67,901.71 1377.36,901.11 1378.04,900.43 1378.72,899.69 1379.40,898.88 1380.08,898.00 1380.77,897.06 1381.45,896.05 1382.13,894.97 1382.81,893.83 1383.49,892.62 1384.18,891.35 1384.86,890.01 1385.54,888.61 1386.22,887.14 1386.90,885.61 1387.59,884.02 1388.27,882.37 1388.95,880.65 1389.63,878.87 1390.31,877.03 1391.00,875.13 1391.68,873.17 1392.36,871.14 1393.04,869.06 1393.72,866.93 1394.41,864.73 1395.09,862.47 1395.77,860.16 1396.45,857.79 1397.13,855.37 1397.82,852.89 1398.50,850.36 1399.18,847.77 1399.86,845.13 1400.54,842.44 1401.23,839.70 1401.91,836.90 1402.59,834.06 1403.27,831.16 1403.95,828.22 1404.64,825.23 1405.32,822.19 1406.00,819.10 1406.68,815.97 1407.36,812.80 1408.05,809.58 1408.73,806.31 1409.41,803.01 1410.09,799.66 1410.77,796.27 1411.46,792.85 1412.14,789.38 1412.82,785.88 1413.50,782.34 1414.18,778.76 1414.87,775.15 1415.55,771.50 1416.23,767.82 1416.91,764.10 1417.59,760.36 1418.28,756.58 1418.96,752.78 1419.64,748.94 1420.32,745.08 1421.00,741.19 1421.69,737.28 1422.37,733.34 1423.05,729.38 1423.73,725.39 1424.41,721.38 1425.10,717.35 1425.78,713.30 1426.46,709.23 1427.14,705.15 1427.82,701.05 1428.51,696.93 1429.19,692.79 1429.87,688.65 1430.55,684.49 1431.23,680.32 1431.92,676.13 1432.60,671.94 1433.28,667.74 1433.96,663.54 1434.64,659.32 1435.33,655.10 1436.01,650.88 1436.69,646.65 1437.37,642.42 1438.05,638.19 1438.74,633.96 1439.42,629.73 1440.10,625.50 1440.78,621.27 1441.46,617.05 1442.15,612.84 1442.83,608.63 1443.51,604.42 1444.19,600.23 1444.87,596.04 1445.56,591.87 1446.24,587.70 1446.92,583.55 1447.60,579.41 1448.28,575.28 1448.97,571.17 1449.65,567.08 1450.33,563.00 1451.01,558.95 1451.69,554.91 1452.38,550.89 1453.06,546.89 1453.74,542.91 1454.42,538.96 1455.10,535.03 1455.79,531.13 1456.47,527.25 1457.15,523.40 1457.83,519.58 1458.51,515.79 1459.20,512.02 1459.88,508.29 1460.56,504.59 1461.24,500.92 1461.92,497.28 1462.61,493.68 1463.29,490.11 1463.97,486.58 1464.65,483.09 1465.33,479.63 1466.02,476.21 1466.70,472.83 1467.38,469.49 1468.06,466.20 1468.74,462.94 1469.43,459.72 1470.11,456.55 1470.79,453.43 1471.47,450.34 1472.15,447.31 1472.84,444.31 1473.52,441.37 1474.20,438.47 1474.88,435.62 1475.56,432.82 1476.25,430.07 1476.93,427.37 1477.61,424.72 1478.29,422.12 1478.97,419.58 1479.66,417.08 1480.34,414.64 1481.02,412.26 1481.70,409.92 1482.38,407.64 1483.07,405.42 1483.75,403.26 1484.43,401.14 1485.11,399.09 1485.79,397.09 1486.48,395.16 1487.16,393.28 1487.84,391.45 1488.52,389.69 1489.20,387.99 1489.89,386.34 1490.57,384.76 1491.25,383.24 1491.93,381.78 1492.61,380.38 1493.30,379.04 1493.98,377.76 1494.66,376.54 1495.34,375.39 1496.02,374.30 1496.71,373.27 1497.39,372.30 1498.07,371.40 1498.75,370.56 1499.43,369.79 1500.12,369.08 1500.80,368.43 1501.48,367.84 1502.16,367.32 1502.84,366.87 1503.53,366.48 1504.21,366.15 1504.89,365.89 1505.57,365.69 1506.25,365.55 1506.94,365.48 1507.62,365.48 1508.30,365.53 1508.98,365.65 1509.66,365.84 1510.35,366.09 1511.03,366.40 1511.71,366.78 1512.39,367.22 1513.07,367.73 1513.76,368.29 1514.44,368.93 1515.12,369.62 1515.80,370.38 1516.48,371.19 1517.17,372.08 1517.85,373.02 1518.53,374.02 1519.21,375.09 1519.89,376.22 1520.58,377.40 1521.26,378.65 1521.94,379.96 1522.62,381.33 1523.30,382.75 1523.99,384.24 1524.67,385.78 1525.35,387.39 1526.03,389.05 1526.71,390.77 1527.40,392.54 1528.08,394.37 1528.76,396.26 1529.44,398.20 1530.12,400.19 1530.81,402.24 1531.49,404.35 1532.17,406.51 1532.85,408.72 1533.53,410.98 1534.22,413.29 1534.90,415.65 1535.58,418.07 1536.26,420.53 1536.94,423.04 1537.63,425.61 1538.31,428.21 1538.99,430.87 1539.67,433.57 1540.35,436.32 1541.04,439.11 1541.72,441.94 1542.40,444.82 1543.08,447.75 1543.76,450.71 1544.45,453.71 1545.13,456.76 1545.81,459.84 1546.49,462.97 1547.17,466.13 1547.86,469.33 1548.54,472.56 1549.22,475.83 1549.90,479.13 1550.58,482.47 1551.27,485.85 1551.95,489.25 1552.63,492.68 1553.31,496.15 1553.99,499.64 1554.68,503.17 1555.36,506.72 1556.04,510.30 1556.72,513.90 1557.40,517.53 1558.09,521.18 1558.77,524.86 1559.45,528.56 1560.13,532.28 1560.81,536.02 1561.50,539.78 1562.18,543.56 1562.86,547.36 1563.54,551.17 1564.22,555.00 1564.91,558.84 1565.59,562.70 1566.27,566.57 1566.95,570.45 1567.63,574.34 1568.32,578.25 1569.00,582.16 1569.68,586.08 1570.36,590.00 1571.04,593.94 1571.73,597.87 1572.41,601.82 1573.09,605.76 1573.77,609.71 1574.45,613.66 1575.14,617.61 1575.82,621.55 1576.50,625.50" fill="none" stroke="#FF00FF" stroke-width="5" stroke-linejoin="round" shape-rendering="crispEdges" stroke-dasharray="25.6 9.3 7.3 8.52"/>
<line x1="212.2" y1="626.00" x2="1574.5" y2="626.00" stroke="#F9510B" stroke-width="8" shape-rendering="crispEdges" stroke-dasharray="7.2 5.452"/>
</g>
<rect x="1577.5" y="1163.3" width="1.5" height="1.7" fill="#111"/>
<text transform="translate(191.89,1182.40) rotate(0.03) scale(0.99,1.03)" font-size="50.5" fill="#0072C2" stroke="#0072C2" stroke-width="0.15" text-anchor="end" letter-spacing="0.9">-60</text>
<text transform="translate(191.89,1003.40) rotate(0.03) scale(0.99,1.03)" font-size="50.5" fill="#0072C2" stroke="#0072C2" stroke-width="0.15" text-anchor="end" letter-spacing="0.9">-40</text>
<text transform="translate(191.89,824.40) rotate(0.03) scale(0.99,1.03)" font-size="50.5" fill="#0072C2" stroke="#0072C2" stroke-width="0.15" text-anchor="end" letter-spacing="0.9">-20</text>
<text transform="translate(193.89,645.40) rotate(0.03) scale(0.99,1.03)" font-size="50.5" fill="#0072C2" stroke="#0072C2" stroke-width="0.15" text-anchor="end" letter-spacing="0.9">0</text>
<text transform="translate(193.89,466.40) rotate(0.03) scale(0.99,1.03)" font-size="50.5" fill="#0072C2" stroke="#0072C2" stroke-width="0.15" text-anchor="end" letter-spacing="0.9">20</text>
<text transform="translate(193.89,287.40) rotate(0.03) scale(0.99,1.03)" font-size="50.5" fill="#0072C2" stroke="#0072C2" stroke-width="0.15" text-anchor="end" letter-spacing="0.9">40</text>
<text transform="translate(193.89,108.40) rotate(0.03) scale(0.99,1.03)" font-size="50.5" fill="#0072C2" stroke="#0072C2" stroke-width="0.15" text-anchor="end" letter-spacing="0.9">60</text>
<text transform="translate(1594.80,1182.40) rotate(0.03) scale(0.99,1.03)" font-size="50.5" fill="#F9510B" stroke="#F9510B" stroke-width="0.15" text-anchor="start" letter-spacing="0.9">-25</text>
<text transform="translate(1594.80,1075.40) rotate(0.03) scale(0.99,1.03)" font-size="50.5" fill="#F9510B" stroke="#F9510B" stroke-width="0.15" text-anchor="start" letter-spacing="0.9">-20</text>
<text transform="translate(1594.80,968.40) rotate(0.03) scale(0.99,1.03)" font-size="50.5" fill="#F9510B" stroke="#F9510B" stroke-width="0.15" text-anchor="start" letter-spacing="0.9" dx="0 2.02 -2.02">-15</text>
<text transform="translate(1594.80,860.40) rotate(0.03) scale(0.99,1.03)" font-size="50.5" fill="#F9510B" stroke="#F9510B" stroke-width="0.15" text-anchor="start" letter-spacing="0.9" dx="0 2.02 -2.02">-10</text>
<text transform="translate(1594.80,753.40) rotate(0.03) scale(0.99,1.03)" font-size="50.5" fill="#F9510B" stroke="#F9510B" stroke-width="0.15" text-anchor="start" letter-spacing="0.9">-5</text>
<text transform="translate(1594.80,645.40) rotate(0.03) scale(0.99,1.03)" font-size="50.5" fill="#F9510B" stroke="#F9510B" stroke-width="0.15" text-anchor="start" letter-spacing="0.9">0</text>
<text transform="translate(1594.80,538.40) rotate(0.03) scale(0.99,1.03)" font-size="50.5" fill="#F9510B" stroke="#F9510B" stroke-width="0.15" text-anchor="start" letter-spacing="0.9">5</text>
<text transform="translate(1594.80,431.40) rotate(0.03) scale(0.99,1.03)" font-size="50.5" fill="#F9510B" stroke="#F9510B" stroke-width="0.15" text-anchor="start" letter-spacing="0.9" dx="2.02 -2.02">10</text>
<text transform="translate(1594.80,323.40) rotate(0.03) scale(0.99,1.03)" font-size="50.5" fill="#F9510B" stroke="#F9510B" stroke-width="0.15" text-anchor="start" letter-spacing="0.9" dx="2.02 -2.02">15</text>
<text transform="translate(1594.80,216.40) rotate(0.03) scale(0.99,1.03)" font-size="50.5" fill="#F9510B" stroke="#F9510B" stroke-width="0.15" text-anchor="start" letter-spacing="0.9">20</text>
<text transform="translate(1594.80,108.40) rotate(0.03) scale(0.99,1.03)" font-size="50.5" fill="#F9510B" stroke="#F9510B" stroke-width="0.15" text-anchor="start" letter-spacing="0.9">25</text>
<text transform="translate(212.65,1234.40) rotate(0.03) scale(0.99,1.03)" font-size="50.5" fill="#424242" stroke="#424242" stroke-width="0.15" text-anchor="middle" letter-spacing="0.9">0</text>
<text transform="translate(485.65,1234.40) rotate(0.03) scale(0.99,1.03)" font-size="50.5" fill="#424242" stroke="#424242" stroke-width="0.15" text-anchor="middle" letter-spacing="0.9">2</text>
<text transform="translate(758.15,1234.40) rotate(0.03) scale(0.99,1.03)" font-size="50.5" fill="#424242" stroke="#424242" stroke-width="0.15" text-anchor="middle" letter-spacing="0.9">4</text>
<text transform="translate(1030.65,1234.40) rotate(0.03) scale(0.99,1.03)" font-size="50.5" fill="#424242" stroke="#424242" stroke-width="0.15" text-anchor="middle" letter-spacing="0.9">6</text>
<text transform="translate(1303.65,1234.40) rotate(0.03) scale(0.99,1.03)" font-size="50.5" fill="#424242" stroke="#424242" stroke-width="0.15" text-anchor="middle" letter-spacing="0.9">8</text>
<text transform="translate(1575.75,1234.40) rotate(0.03) scale(0.99,1.03)" font-size="50.5" fill="#424242" stroke="#424242" stroke-width="0.15" text-anchor="middle" letter-spacing="0.9" dx="1.92 -1.92">10</text>
<rect x="1617.36" y="963.52" width="9.36" height="5.89" fill="#fff"/>
<rect x="1631.46" y="963.52" width="9.37" height="5.89" fill="#fff"/>
<rect x="1617.36" y="855.52" width="9.36" height="5.89" fill="#fff"/>
<rect x="1631.46" y="855.52" width="9.37" height="5.89" fill="#fff"/>
<rect x="1599.81" y="426.52" width="9.36" height="5.89" fill="#fff"/>
<rect x="1613.91" y="426.52" width="9.37" height="5.89" fill="#fff"/>
<rect x="1599.81" y="318.52" width="9.36" height="5.89" fill="#fff"/>
<rect x="1613.91" y="318.52" width="9.37" height="5.89" fill="#fff"/>
<rect x="1552.91" y="1229.50" width="9.36" height="5.89" fill="#fff"/>
<rect x="1567.02" y="1229.50" width="9.37" height="5.89" fill="#fff"/>
<text transform="translate(895.00,1308.70) scale(1.006,1.01)" font-size="55.55" fill="#424242" stroke="#424242" stroke-width="0.15" text-anchor="middle" letter-spacing="0.3">Time(s)</text>
<text transform="translate(92.00,626.20) rotate(-90) scale(1.0055,1.01)" font-size="55.55" fill="#0072C2" stroke="#0072C2" stroke-width="0.15" text-anchor="middle">Angular Displacement(deg)</text>
<text transform="translate(1740.00,625.90) rotate(-90) scale(1.0045,1.01)" font-size="55.55" fill="#F9510B" stroke="#F9510B" stroke-width="0.15" text-anchor="middle">Linear Displacement(mm)</text>
<line x1="1241" y1="96.4" x2="1368" y2="96.4" stroke="#000" stroke-width="5"/>
<line x1="1241" y1="163.8" x2="1368" y2="163.8" stroke="#0000FF" stroke-width="5" stroke-dasharray="32 18.2"/>
<line x1="1241" y1="231.3" x2="1368" y2="231.3" stroke="#FF00FF" stroke-width="5" stroke-dasharray="25.7 7.8 8 8.8"/>
<line x1="1241" y1="299" x2="1362" y2="299" stroke="#F9510B" stroke-width="7.6" stroke-dasharray="6.5 6"/>
<text transform="translate(1377.30,116.20) scale(1,1.02)" font-size="50.5" fill="#000" stroke="#000" stroke-width="0.15" text-anchor="start">Gyro-X</text>
<text transform="translate(1377.30,183.80) scale(1,1.02)" font-size="50.5" fill="#000" stroke="#000" stroke-width="0.15" text-anchor="start">Gyro-Y</text>
<text transform="translate(1377.30,251.20) scale(1,1.02)" font-size="50.5" fill="#000" stroke="#000" stroke-width="0.15" text-anchor="start">Gyro-Z</text>
<text transform="translate(1377.30,318.60) scale(1,1.02)" font-size="50.5" fill="#000" stroke="#000" stroke-width="0.15" text-anchor="start">Slide-Z</text>
<text class="ser" transform="translate(1016.00,1480.20)" font-size="86" fill="#000" stroke="#000" stroke-width="0" text-anchor="middle">(<tspan font-weight="bold">f</tspan>)</text>
</svg></body></html>
